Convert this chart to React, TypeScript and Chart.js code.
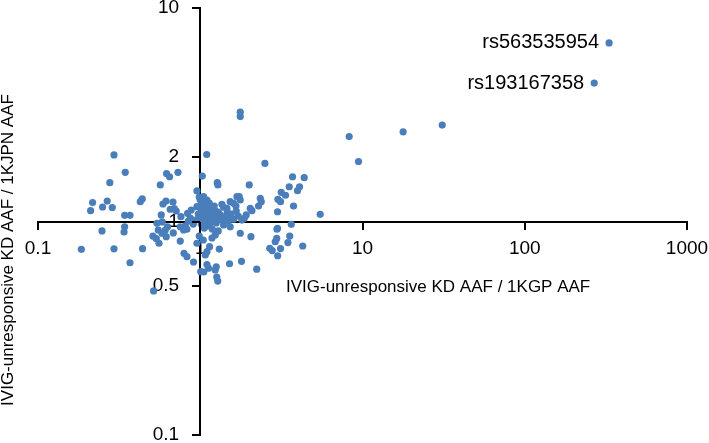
import { useEffect, useRef } from 'react';
import { Chart, registerables } from 'chart.js';

Chart.register(...registerables);

const FONT = "'Liberation Sans', Arial, Helvetica, sans-serif";

const xTickValues = [0.1, 1, 10, 100, 1000];
const xTickLabels = ['0.1', '1', '10', '100', '1000'];
const yTickValues = [0.1, 0.5, 1, 2, 10];
const yTickLabels = ['0.1', '0.5', '1', '2', '10'];

const xAxisTitle = 'IVIG-unresponsive KD AAF / 1KGP AAF';
const yAxisTitle = 'IVIG-unresponsive KD AAF / 1KJPN AAF';

const xValues = [
  0.294, 0.345, 0.277, 0.217, 0.211, 0.25, 0.267, 0.287, 0.248, 0.185,
  0.294, 0.369, 0.342, 0.369, 0.342, 0.339, 0.427, 0.439, 0.441, 0.516,
  0.567, 0.62, 0.647, 0.729, 0.615, 0.589, 0.679, 0.692, 0.711, 0.575,
  0.583, 0.541, 0.551, 0.511, 0.536, 0.557, 0.629, 0.617, 0.76, 0.835,
  0.88, 0.753, 0.789, 0.828, 0.753, 0.794, 0.828, 0.909, 0.954, 1.029,
  0.954, 1.096, 1.007, 1.051, 0.581, 0.609, 0.682, 0.809, 0.954, 0.653,
  1.764, 1.764, 8.28, 2.504, 1.273, 1.285, 2.004, 3.705, 4.373, 3.535,
  4.092, 3.977, 3.155, 3.354, 3.01, 3.124, 2.343, 2.376, 2.287, 3.758,
  2.994, 5.488, 1.739, 1.764, 1.53, 1.604, 1.66, 1.36, 1.392, 1.208,
  1.237, 1.054, 1.1, 1.024, 1.039, 2.033, 2.082, 1.92, 1.867, 1.807,
  1.328, 1.426, 1.53, 1.604, 1.152, 1.208, 1.074, 1.12, 1.044, 1.0,
  1.089, 1.152, 1.255, 1.044, 1.12, 2.994, 3.637, 1.764, 2.053, 1.392,
  1.53, 1.237, 1.181, 1.31, 1.141, 1.1, 1.074, 1.1, 1.125, 1.255,
  1.237, 1.515, 1.796, 2.229, 1.264, 1.282, 2.681, 2.777, 3.0, 2.898,
  2.96, 3.124, 3.47, 3.56, 4.281, 2.97, 9.45, 17.8, 31.0, 268,
  331, 0.868, 0.932, 0.972, 0.906, 0.844, 1.461, 1.683, 1.0, 1.048,
  1.1, 1.152, 1.208, 1.074, 0.986, 1.014, 1.058, 1.104, 1.136, 1.169,
  1.186, 1.22, 1.291, 1.31, 1.366, 1.467, 1.552, 1.667, 1.714, 1.488,
  0.986, 1.014, 1.058, 1.186, 1.291, 0.986, 1.044,
];

const yValues = [
  2.05, 1.7, 1.52, 1.227, 1.124, 1.169, 1.247, 1.163, 0.903, 0.741,
  0.745, 0.641, 1.069, 1.069, 0.945, 0.893, 1.238, 1.275, 0.746, 0.473,
  1.483, 1.675, 1.62, 1.7, 1.247, 1.208, 1.234, 1.148, 1.12, 1.073,
  0.995, 0.981, 0.9125, 0.855, 0.831, 0.791, 0.945, 0.849, 1.053, 1.092,
  1.132, 0.945, 0.9125, 0.92, 0.81, 0.71, 0.684, 0.646, 0.791, 1.633,
  1.39, 2.06, 0.582, 0.58, 0.881, 0.9125, 0.884, 0.953, 1.173, 1.141,
  3.25, 3.1, 2.5, 1.87, 1.52, 1.483, 1.483, 1.62, 1.604, 1.455,
  1.455, 1.394, 1.37, 1.327, 1.27, 1.238, 1.284, 1.238, 1.182, 1.182,
  1.111, 1.081, 1.307, 1.261, 1.238, 1.217, 1.182, 1.204, 1.166, 1.153,
  1.12, 1.284, 1.261, 1.217, 1.173, 1.153, 1.124, 1.073, 1.035, 1.016,
  1.073, 1.053, 1.035, 1.024, 1.035, 1.016, 1.108, 1.073, 1.061, 1.027,
  1.005, 0.984, 0.984, 0.963, 0.953, 0.929, 0.97, 0.881, 0.849, 0.963,
  0.945, 0.865, 0.837, 0.743, 0.762, 0.722, 0.697, 0.629, 0.604, 0.614,
  0.593, 0.634, 0.651, 0.598, 0.549, 0.526, 0.749, 0.731, 0.691, 0.804,
  0.833, 0.747, 0.797, 0.855, 0.768, 0.92, 1.91, 2.63, 2.83, 4.45,
  6.86, 1.038, 1.016, 1.084, 0.973, 1.005, 1.153, 1.307, 1.261, 1.307,
  1.092, 1.073, 1.053, 1.035, 1.302, 1.144, 1.12, 1.182, 1.221, 1.132,
  1.084, 1.182, 1.108, 1.038, 1.016, 1.108, 1.084, 1.12, 1.061, 1.005,
  1.084, 0.973, 0.932, 0.922, 0.903, 0.855, 0.819,
];

const annotationNames = ['rs563535954', 'rs193167358'];
const annotationX = [331, 268];
const annotationY = [6.86, 4.45];

export default function App() {
  const canvasRef = useRef<HTMLCanvasElement | null>(null);

  useEffect(() => {
    const canvas = canvasRef.current;
    if (!canvas) return;

    const overlay = {
      id: 'overlay',
      afterDraw(chart: any) {
        const { ctx, scales } = chart;
        const sx = scales.x;
        const sy = scales.y;
        const ax = Math.round(sx.getPixelForValue(1));
        const ay = Math.round(sy.getPixelForValue(1));
        ctx.save();

        // tick marks (outside), drawn from the scales' own pixel mapping
        ctx.fillStyle = '#000000';
        xTickValues.forEach((v) => {
          const px = Math.round(sx.getPixelForValue(v));
          ctx.fillRect(px - 1, ay, 2, 8);
        });
        yTickValues.forEach((v) => {
          const py = Math.round(sy.getPixelForValue(v));
          ctx.fillRect(ax - 8, py - 1, 8, 2);
        });

        ctx.font = `20px ${FONT}`;
        ctx.textAlign = 'right';
        ctx.textBaseline = 'middle';
        annotationNames.forEach((name, i) => {
          const px = sx.getPixelForValue(annotationX[i]);
          const py = sy.getPixelForValue(annotationY[i]);
          ctx.fillText(name, px - 10, py);
        });

        ctx.font = `17px ${FONT}`;
        ctx.textAlign = 'left';
        ctx.textBaseline = 'middle';
        ctx.fillText(xAxisTitle, ax + 86, ay + 65);

        ctx.translate(8, ay + 28);
        ctx.rotate(-Math.PI / 2);
        ctx.textAlign = 'center';
        ctx.fillText(yAxisTitle, 0, 0);
        ctx.restore();
      },
    };

    const chart = new Chart(canvas, {
      type: 'scatter',
      data: {
        datasets: [
          {
            data: xValues.map((x, i) => ({ x, y: yValues[i] })),
            backgroundColor: '#4a7ebb',
            borderWidth: 0,
            pointRadius: 3.6,
            pointHoverRadius: 3.6,
          },
        ],
      },
      options: {
        responsive: false,
        animation: false,
        devicePixelRatio: 1,
        layout: { padding: { left: 38, right: 22, top: 10, bottom: 10 } },
        plugins: {
          legend: { display: false },
          tooltip: { enabled: false },
          title: { display: false },
        },
        scales: {
          x: {
            type: 'logarithmic',
            min: 0.1,
            max: 1000,
            position: { y: 1 } as any,
            afterBuildTicks: (scale: any) => {
              scale.ticks = xTickValues.map((v) => ({ value: v }));
            },
            grid: {
              drawOnChartArea: false,
              drawTicks: true,
              tickLength: 7,
              tickWidth: 2,
              tickColor: '#000000',
              color: '#000000',
              lineWidth: 2,
            },
            border: { display: true, color: '#000000', width: 2 },
            ticks: {
              autoSkip: false,
              maxRotation: 0,
              padding: 0,
              color: '#000000',
              font: { family: FONT, size: 19, lineHeight: '41px' as any },
              callback: (value: any) => {
                const i = xTickValues.indexOf(Number(value));
                return i >= 0 ? xTickLabels[i] : '';
              },
            },
          },
          y: {
            type: 'logarithmic',
            min: 0.1,
            max: 10,
            position: { x: 1 } as any,
            afterBuildTicks: (scale: any) => {
              scale.ticks = yTickValues.map((v) => ({ value: v }));
            },
            grid: {
              drawOnChartArea: false,
              drawTicks: true,
              tickLength: 7,
              tickWidth: 2,
              tickColor: '#000000',
              color: '#000000',
              lineWidth: 2,
            },
            border: { display: true, color: '#000000', width: 2 },
            ticks: {
              autoSkip: false,
              padding: 0,
              color: '#000000',
              font: { family: FONT, size: 19, lineHeight: 1 },
              callback: (value: any) => {
                const i = yTickValues.indexOf(Number(value));
                return i >= 0 ? yTickLabels[i] + '    ' : '';
              },
            },
          },
        },
      },
      plugins: [overlay],
    });

    return () => {
      chart.destroy();
    };
  }, []);

  return (
    <canvas
      ref={canvasRef}
      width={709}
      height={447}
      style={{ position: 'absolute', left: 0, top: -2, width: 709, height: 447, display: 'block' }}
    />
  );
}
